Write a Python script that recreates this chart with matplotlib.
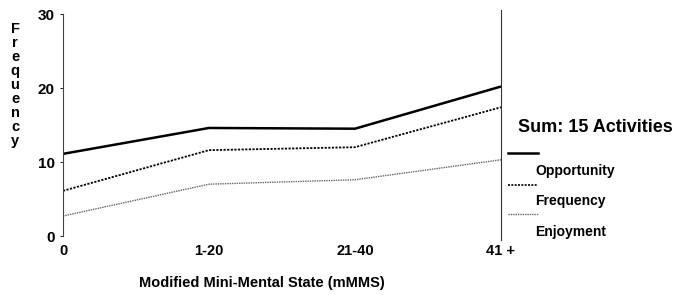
import matplotlib.pyplot as plt

plt.rcParams['font.family'] = ['Liberation Sans', 'DejaVu Sans']
plt.rcParams['font.weight'] = 'bold'
plt.rcParams['axes.labelweight'] = 'bold'

categories = ['0', '1-20', '21-40', '41 +']
opportunity = [11.1, 14.6, 14.5, 20.2]
frequency = [6.1, 11.6, 12.0, 17.4]
enjoyment = [2.7, 7.0, 7.6, 10.3]
legend_title = 'Sum: 15 Activities'
series_names = ['Opportunity', 'Frequency', 'Enjoyment']

fig = plt.figure(figsize=(6.91, 2.95), dpi=100)
ax = fig.add_axes([63 / 691, 59 / 295, 438 / 691, 222 / 295])

x = range(len(categories))
ax.plot(x, opportunity, color='black', lw=1.8, solid_capstyle='butt')
ax.plot(x, frequency, color='black', lw=1.3, ls=(0, (1.2, 0.8)))
ax.plot(x, enjoyment, color='#666666', lw=1.0, ls=(0, (1.0, 0.7)))

ax.set_xlim(0, 3)
ax.set_ylim(0, 30)
for s in ['top', 'right', 'bottom']:
    ax.spines[s].set_visible(False)
ax.spines['left'].set_color('#444444')
ax.spines['left'].set_linewidth(0.8)
ax.axvline(3, ymin=-0.02, ymax=1.02, color='#333333', lw=0.8, clip_on=False)

ax.set_yticks([0, 10, 20, 30])
ax.set_xticks(list(x))
ax.set_xticklabels(categories)
ax.tick_params(axis='y', length=2, width=0.6, labelsize=11, pad=4)
ax.tick_params(axis='x', length=0, labelsize=10.5, pad=6)

# axis titles
fig.text(262 / 691, 1 - 283 / 295, 'Modified Mini-Mental State (mMMS)', ha='center',
         va='center', fontsize=10.5, fontweight='bold')
fig.text(15 / 691, 1 - 85 / 295, '\n'.join('Frequency'), ha='center', va='center',
         fontsize=10.5, fontweight='bold', linespacing=1.0)

# legend drawn by hand
fig.text(518 / 691, 1 - 128 / 295, legend_title, fontsize=13, fontweight='bold',
         va='center', ha='left')
styles = [dict(color='black', lw=1.8),
          dict(color='black', lw=1.2, ls=(0, (1.2, 0.8))),
          dict(color='#666666', lw=1.0, ls=(0, (1.0, 0.7)))]
line_y = [153, 185, 214]
text_y = [171, 201, 232]
for name, st, ly, ty in zip(series_names, styles, line_y, text_y):
    fig.add_artist(plt.Line2D([508 / 691, 538 / 691], [1 - ly / 295, 1 - ly / 295],
                              transform=fig.transFigure, **st))
    fig.text(535 / 691, 1 - ty / 295, name, fontsize=10, fontweight='bold',
             va='center', ha='left')

fig.savefig('out.png', dpi=100)
